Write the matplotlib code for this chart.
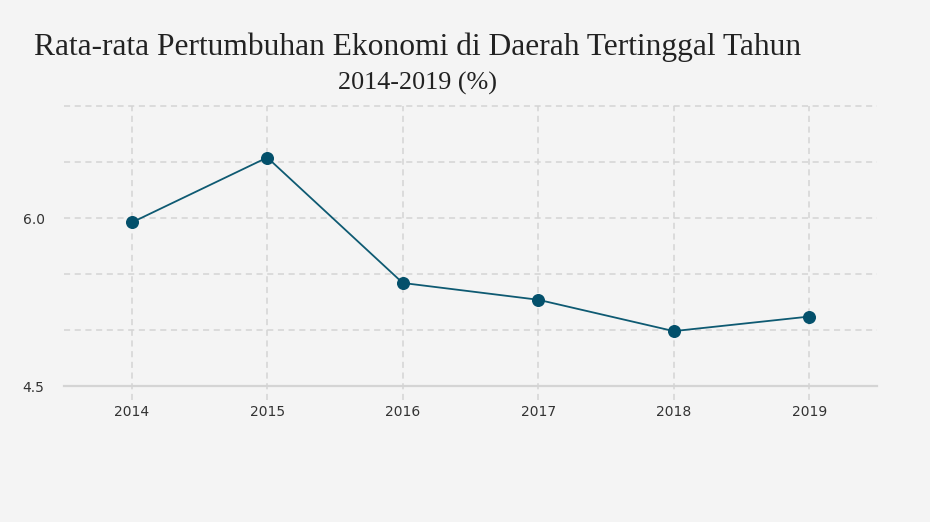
import matplotlib
matplotlib.use("Agg")
import matplotlib.pyplot as plt

# data
years = [2014, 2015, 2016, 2017, 2018, 2019]
growth = [5.96, 6.54, 5.42, 5.27, 4.99, 5.12]
yticks = [4.5, 6.0]
ygrid = [5.0, 5.5, 6.0, 6.5, 7.0]

bg = "#f4f4f4"
line_col = "#0e5a72"
dot_col = "#03506b"
grid_col = "#d4d4d4"

fig = plt.figure(figsize=(9.3, 5.22), dpi=100, facecolor=bg)
ax = fig.add_axes([64 / 930, 1 - 386 / 522, (877 - 64) / 930, (386 - 106) / 522])
ax.set_facecolor(bg)

ax.set_xlim(2013.5, 2019.5)
ax.set_ylim(4.5, 7.0)

# dashed grid
for y in ygrid:
    ax.axhline(y, color=grid_col, lw=1.1, ls=(0, (4, 3)), zorder=1, clip_on=False)
ax.axhline(4.5, color=grid_col, lw=1.6, zorder=1, clip_on=False)
ax.vlines(years, 4.375, 7.0, colors=grid_col, lw=1.1, linestyles=(0, (4, 3)),
          zorder=1, clip_on=False)

ax.plot(years, growth, color=line_col, lw=1.3, zorder=3)
ax.scatter(years, growth, s=70, color=dot_col, zorder=4)

for s in ax.spines.values():
    s.set_visible(False)
ax.set_xticks(years)
ax.set_xticklabels([str(y) for y in years])
ax.set_yticks(yticks)
ax.set_yticklabels([f"{v:.1f}" for v in yticks])
ax.tick_params(length=0, labelsize=10, colors="#333333")
ax.tick_params(axis="x", pad=14)
ax.tick_params(axis="y", pad=14)

fig.text(34 / 930, 1 - 47 / 522, "Rata-rata Pertumbuhan Ekonomi di Daerah Tertinggal Tahun",
         family="Liberation Serif", fontsize=22.7, color="#222222", ha="left", va="center")
fig.text(417 / 930, 1 - 83 / 522, "2014-2019 (%)",
         family="Liberation Serif", fontsize=18.8, color="#222222", ha="center", va="center")

fig.savefig("out.png", dpi=100, facecolor=bg)
